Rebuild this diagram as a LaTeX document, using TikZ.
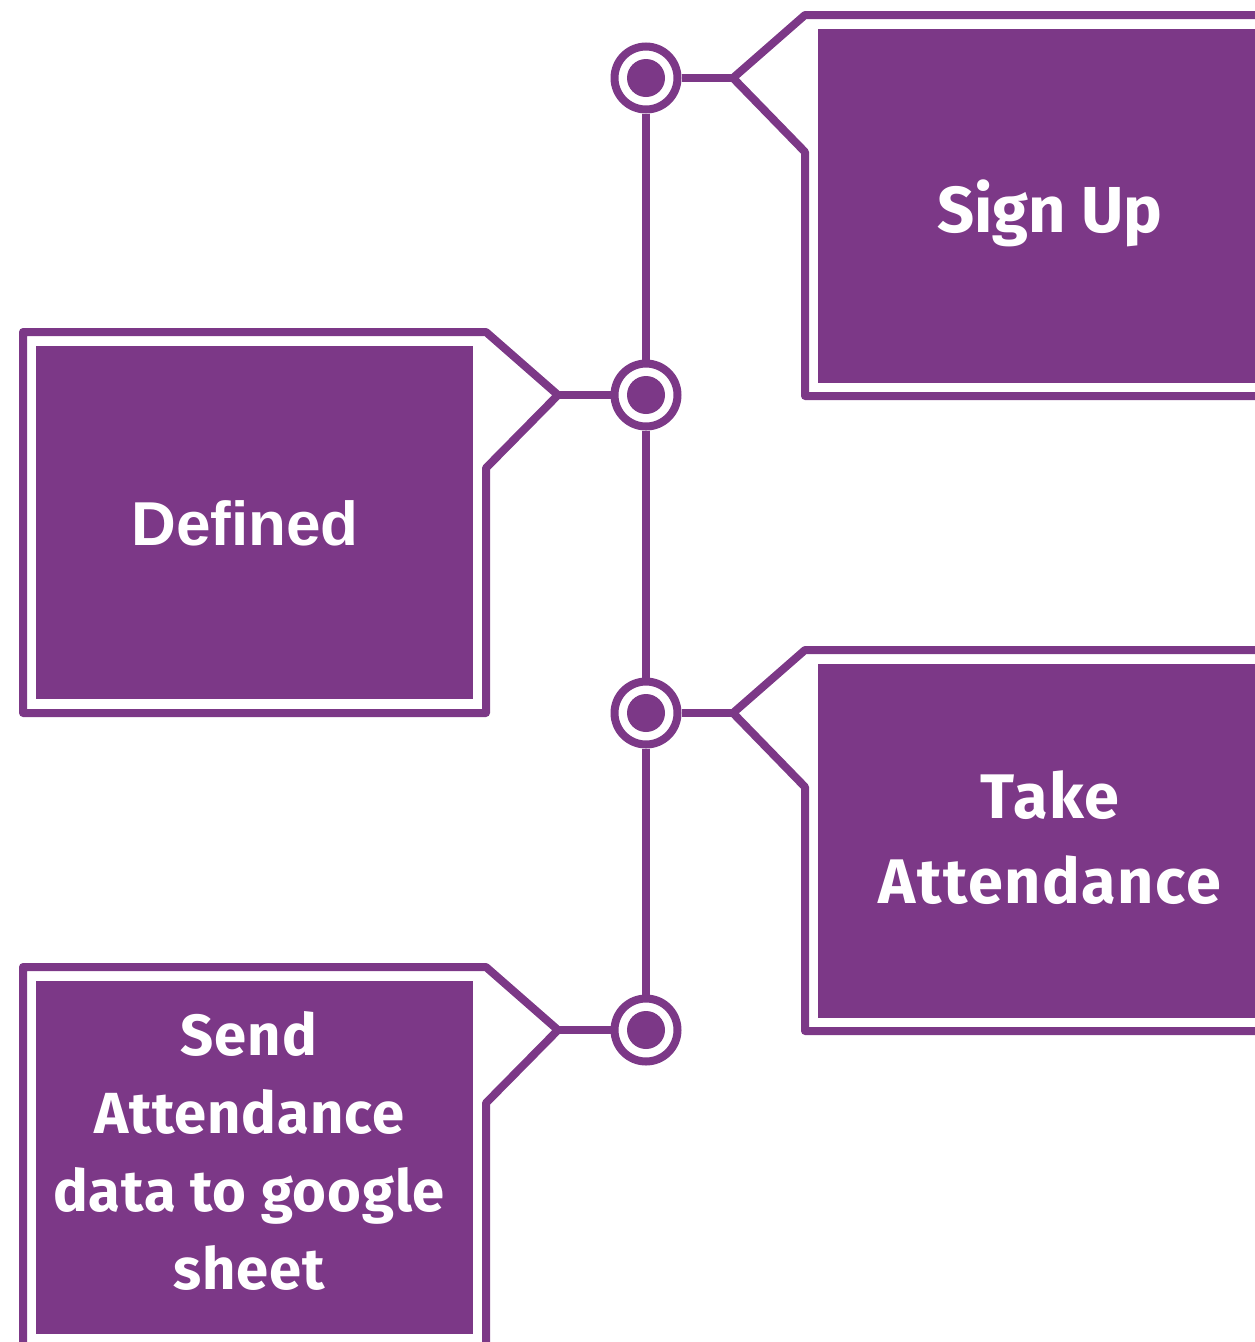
\documentclass[tikz,border=0pt]{standalone}
\usepackage{fontspec}
\newfontfamily\tagfont{Fira Sans}
\newfontfamily\deffont{Liberation Sans}
\definecolor{plum}{RGB}{124,56,135}

\tikzset{
  ring/.style={circle, draw=plum, fill=white, line width=8pt, minimum size=63pt, inner sep=0pt},
  wire/.style={draw=plum, line width=8pt},
  frame/.style={draw=plum, line width=8pt, line join=round},
  label/.style={text=white, align=center, font=\tagfont\bfseries}
}

\begin{document}
\begin{tikzpicture}[x=1pt, y=-1pt]
\useasboundingbox (0,0) rectangle (1254,1342);

% timeline rings
\node[ring] (c1) at (646,78) {};
\node[ring] (c2) at (646,395) {};
\node[ring] (c3) at (646,713) {};
\node[ring] (c4) at (646,1030) {};
\fill[plum] (c1) circle (19);
\fill[plum] (c2) circle (19);
\fill[plum] (c3) circle (19);
\fill[plum] (c4) circle (19);

\draw[wire] (c1) -- (c2);
\draw[wire] (c2) -- (c3);
\draw[wire] (c3) -- (c4);

% tag points
\coordinate (t1) at (733,78);
\coordinate (t2) at (558,395);
\coordinate (t3) at (733,713);
\coordinate (t4) at (558,1030);

\draw[wire] (c1) -- (t1);
\draw[wire] (c2) -- (t2);
\draw[wire] (c3) -- (t3);
\draw[wire] (c4) -- (t4);

% Sign Up
\draw[frame] (1300,15) -- (805,15) -- (t1) -- (805,152) -- (805,396) -- (1300,396);
\fill[plum] (818,29) rectangle (1290,383);
\node[label, font=\tagfont\bfseries\fontsize{65}{85}\selectfont] (signup) at (1050,213) {Sign Up};

% Defined
\draw[frame] (23,332) -- (486,332) -- (t2) -- (486,468) -- (486,713) -- (23,713) -- cycle;
\fill[plum] (36,346) rectangle (473,699);
\node[label, font=\deffont\bfseries\fontsize{62}{80}\selectfont] (defined) at (245,523) {Defined};

% Take Attendance
\draw[frame] (1300,650) -- (805,650) -- (t3) -- (805,787) -- (805,1031) -- (1300,1031);
\fill[plum] (818,664) rectangle (1290,1018);
\node[label, font=\tagfont\bfseries\fontsize{63}{85}\selectfont\addfontfeature{LetterSpace=2.5}] (take) at (1050,838) {Take\\Attendance};

% Send Attendance
\draw[frame] (23,967) -- (486,967) -- (t4) -- (486,1103) -- (486,1348) -- (23,1348) -- cycle;
\fill[plum] (36,981) rectangle (473,1334);
\node[label, font=\tagfont\bfseries\fontsize{58}{78}\selectfont\addfontfeature{LetterSpace=1.5}] (send) at (249,1151) {Send\\Attendance\\data to google\\sheet};

\end{tikzpicture}
\end{document}
